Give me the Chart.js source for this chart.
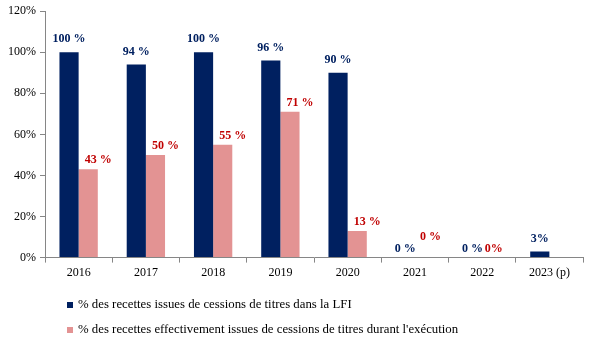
<!DOCTYPE html>
<html>
<head>
<meta charset="utf-8">
<script src="https://cdn.jsdelivr.net/npm/chart.js@4/dist/chart.umd.min.js"></script>
<style>
  html, body { margin: 0; padding: 0; background: #fff; }
  #wrap { width: 589px; height: 343px; position: relative; }
</style>
</head>
<body>
<div id="wrap"><canvas id="chart" width="589" height="343"></canvas></div>
<script>
// values
var years = ['2016', '2017', '2018', '2019', '2020', '2021', '2022', '2023 (p)'];
var lfiShare = [100, 94, 100, 96, 90, 0, 0, 3];
var execShare = [43, 50, 55, 71, 13, 0, 0, null];
var yTicks = [0, 20, 40, 60, 80, 100, 120];
var seriesNames = [
    '% des recettes issues de cessions de titres dans la LFI',
    "% des recettes effectivement issues de cessions de titres durant l'exécution"
];

var NAVY = '#002060';
var PINK = '#E39393';
var SERIF = '"Liberation Serif", "DejaVu Serif", serif';

// value labels above the bars
var valueLabels = {
    id: 'valueLabels',
    afterDatasetsDraw: function (chart) {
        var ctx = chart.ctx;
        ctx.save();
        ctx.font = 'bold 12px ' + SERIF;
        ctx.textAlign = 'center';
        ctx.textBaseline = 'middle';
        chart.data.datasets.forEach(function (ds, di) {
            var meta = chart.getDatasetMeta(di);
            meta.data.forEach(function (bar, i) {
                var v = ds.data[i];
                if (v === null || v === undefined) return;
                var txt = ds.labelFormat(v, i);
                var x = bar.x, y;
                if (di === 0) {
                    y = bar.y - 13;
                    if (v === 0) y = bar.y - 9;
                } else {
                    x += 10;
                    y = bar.y - 9;
                    if (v === 0) x -= 8;
                    if (i === 5) { y -= 12; x += 4; }
                }
                ctx.fillStyle = ds.labelColor;
                ctx.fillText(txt, x, y);
            });
        });
        ctx.restore();
    }
};

// two-row legend under the chart
var legendRows = {
    id: 'legendRows',
    afterDraw: function (chart) {
        var ctx = chart.ctx;
        ctx.save();
        ctx.font = '12.8px ' + SERIF;
        ctx.textBaseline = 'middle';
        ctx.textAlign = 'left';
        chart.data.datasets.forEach(function (ds, di) {
            var y = 305 + di * 25;
            ctx.fillStyle = ds.backgroundColor;
            ctx.fillRect(67, y - 3, 6, 6);
            ctx.fillStyle = '#000';
            ctx.fillText(seriesNames[di], 78, y);
        });
        ctx.restore();
    }
};

new Chart(document.getElementById('chart'), {
    type: 'bar',
    data: {
        labels: years,
        datasets: [
            {
                label: seriesNames[0],
                data: lfiShare,
                backgroundColor: NAVY,
                labelColor: NAVY,
                labelFormat: function (v, i) { return i === 7 ? v + '%' : v + ' %'; },
                categoryPercentage: 0.57,
                barPercentage: 1
            },
            {
                label: seriesNames[1],
                data: execShare,
                backgroundColor: PINK,
                labelColor: '#C00000',
                labelFormat: function (v, i) { return i === 6 ? v + '%' : v + ' %'; },
                categoryPercentage: 0.57,
                barPercentage: 1
            }
        ]
    },
    options: {
        responsive: false,
        animation: false,
        devicePixelRatio: 1,
        layout: { padding: { top: 7, right: 6, left: 0, bottom: 60 } },
        plugins: {
            legend: { display: false },
            tooltip: { enabled: false }
        },
        scales: {
            x: {
                grid: { display: true, drawOnChartArea: false, tickLength: 5, color: '#868686', offset: true },
                border: { display: true, color: '#868686' },
                ticks: { color: '#000', font: { family: SERIF, size: 12 }, padding: 3, maxRotation: 0, autoSkip: false }
            },
            y: {
                min: 0,
                max: 120,
                afterBuildTicks: function (scale) {
                    scale.ticks = yTicks.map(function (v) { return { value: v }; });
                },
                afterFit: function (scale) { scale.width = 45; },
                grid: { display: true, drawOnChartArea: false, tickLength: 5, color: '#868686' },
                border: { display: true, color: '#868686' },
                ticks: {
                    color: '#000',
                    font: { family: SERIF, size: 12 },
                    padding: 4,
                    callback: function (v) { return v + '%'; }
                }
            }
        }
    },
    plugins: [valueLabels, legendRows]
});
</script>
</body>
</html>
